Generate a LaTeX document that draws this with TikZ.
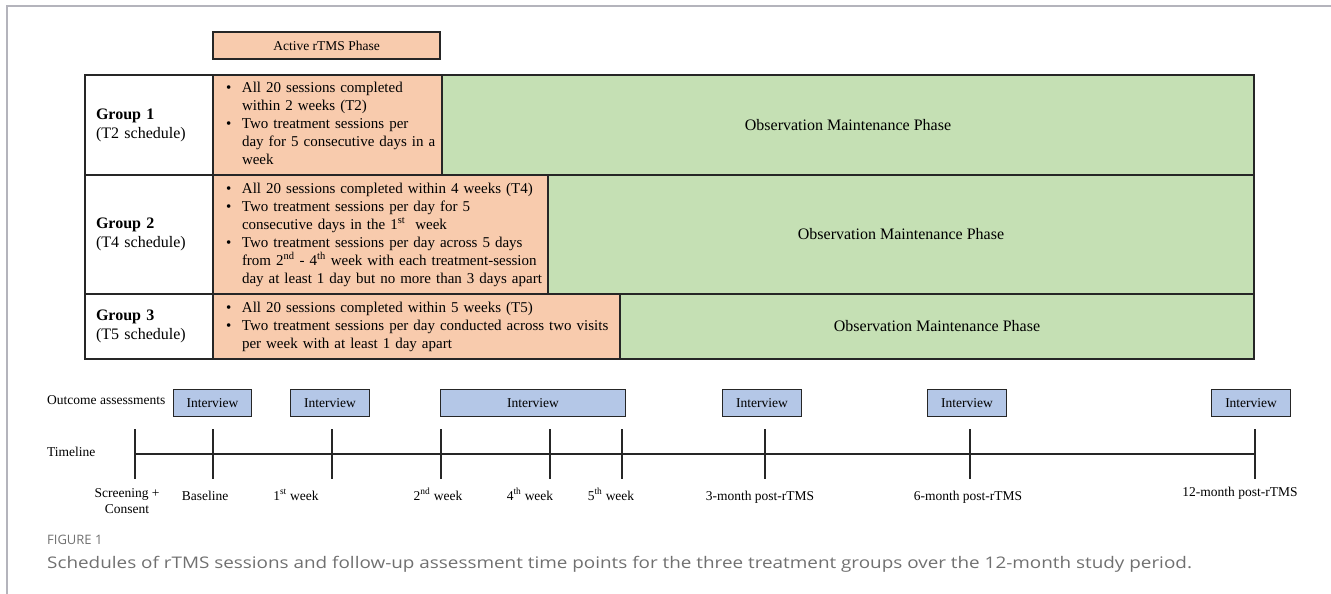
\documentclass[tikz,border=0pt]{standalone}
\usepackage{fontspec}
\setmainfont{Liberation Serif}
\newfontfamily\capfont{Open Sans}
\usetikzlibrary{positioning}
\definecolor{actorange}{HTML}{F8CBAD}
\definecolor{obsgreen}{HTML}{C5E0B4}
\definecolor{ivblue}{HTML}{B4C7E7}
\definecolor{framegray}{HTML}{B4B4BC}
\definecolor{capgray}{HTML}{707070}
\tikzset{
  cell/.style={draw=black!85, line width=1.5pt, inner sep=0pt, outer sep=0pt, anchor=north west},
  grp/.style={cell, fill=white, align=left, inner xsep=11pt, font=\fontsize{16}{19}\selectfont},
  act/.style={cell, fill=actorange, align=left, inner xsep=13pt, font=\fontsize{15}{18}\selectfont},
  obs/.style={cell, fill=obsgreen, align=center, font=\fontsize{16}{19}\selectfont},
  ivw/.style={draw=black!85, line width=1.2pt, fill=ivblue, minimum height=27pt, inner sep=0pt, anchor=north west, font=\fontsize{13.5}{16}\selectfont},
  lbl/.style={font=\fontsize{13.5}{16.5}\selectfont, align=center, inner sep=0pt},
  tick/.style={line width=1.3pt, black!85}
}

\begin{document}
\begin{tikzpicture}[x=1pt,y=-1pt]
	\useasboundingbox (0,0) rectangle (1331,594);
	\draw [framegray, line width=1.5pt] (7,594) -- (7,6) -- (1331,6);
	% phase header
	\node [cell, fill=actorange, line width=1.2pt, minimum width=227pt, minimum height=27pt, font=\fontsize{13.5}{16}\selectfont] (phase) at (213,32) {Active rTMS Phase};
	% group 1
	\node [grp, minimum width=128pt, minimum height=100pt, text width=106pt] (g1) at (85,75) {\textbf{Group 1}\\(T2 schedule)};
	\node [act, minimum width=229pt, minimum height=100pt, text width=203pt] (a1) at (213,75) {\begin{tabular}{@{}p{16pt}@{}l@{}}
		\textbullet & All 20 sessions completed\\
		& within 2 weeks (T2)\\
		\textbullet & Two treatment sessions per\\
		& day for 5 consecutive days in a\\
		& week
	\end{tabular}};
	\node [obs, minimum width=812pt, minimum height=100pt] (o1) at (442,75) {Observation Maintenance Phase};
	% group 2
	\node [grp, minimum width=128pt, minimum height=119pt, text width=106pt] (g2) at (85,175) {\textbf{Group 2}\\(T4 schedule)};
	\node [act, minimum width=335pt, minimum height=119pt, text width=309pt] (a2) at (213,175) {\begin{tabular}{@{}p{16pt}@{}l@{}}
		\textbullet & All 20 sessions completed within 4 weeks (T4)\\
		\textbullet & Two treatment sessions per day for 5\\
		& consecutive days in the 1\textsuperscript{st}\ \ week\\
		\textbullet & Two treatment sessions per day across 5 days\\
		& from 2\textsuperscript{nd} - 4\textsuperscript{th} week with each treatment-session\\
		& day at least 1 day but no more than 3 days apart
	\end{tabular}};
	\node [obs, minimum width=706pt, minimum height=119pt] (o2) at (548,175) {Observation Maintenance Phase};
	% group 3
	\node [grp, minimum width=128pt, minimum height=65pt, text width=106pt] (g3) at (85,294) {\textbf{Group 3}\\(T5 schedule)};
	\node [act, minimum width=407pt, minimum height=65pt, text width=381pt] (a3) at (213,294) {\begin{tabular}{@{}p{16pt}@{}l@{}}
		\textbullet & All 20 sessions completed within 5 weeks (T5)\\
		\textbullet & Two treatment sessions per day conducted across two visits\\
		& per week with at least 1 day apart
	\end{tabular}};
	\node [obs, minimum width=634pt, minimum height=65pt] (o3) at (620,294) {Observation Maintenance Phase};
	% assessments
	\node [lbl, anchor=west] (outc) at (47,400) {Outcome assessments};
	\node [ivw, minimum width=78pt] (iv1) at (173,389) {Interview};
	\node [ivw, minimum width=79pt] (iv2) at (290,389) {Interview};
	\node [ivw, minimum width=185pt] (iv3) at (440,389) {Interview};
	\node [ivw, minimum width=79pt] (iv4) at (722,389) {Interview};
	\node [ivw, minimum width=79pt] (iv5) at (927,389) {Interview};
	\node [ivw, minimum width=79pt] (iv6) at (1211,389) {Interview};
	% timeline
	\node [lbl, anchor=west] (tline) at (47,452) {Timeline};
	\coordinate (tl0) at (135,454);
	\coordinate (tl8) at (1255,454);
	\draw [tick] (tl0) -- (tl8);
	\foreach \x [count=\i] in {135,213,332,441,550,622,765,970,1255}
		\draw [tick] (\x,429) coordinate (tk\i) -- (\x,479);
	\node [lbl, anchor=north] (s1) at (127,488) {Screening +\\Consent};
	\node [lbl, anchor=base] (s2) at (205,500) {Baseline};
	\node [lbl, anchor=base] (s3) at (296,500) {1\textsuperscript{st} week};
	\node [lbl, anchor=base] (s4) at (438,500) {2\textsuperscript{nd} week};
	\node [lbl, anchor=base] (s5) at (530,500) {4\textsuperscript{th} week};
	\node [lbl, anchor=base] (s6) at (611,500) {5\textsuperscript{th} week};
	\node [lbl, anchor=base] (s7) at (760,500) {3-month post-rTMS};
	\node [lbl, anchor=base] (s8) at (968,500) {6-month post-rTMS};
	\node [lbl, anchor=base] (s9) at (1240,496) {12-month post-rTMS};
	% caption
	\node [anchor=west, inner sep=0pt, text=capgray, font=\capfont\fontsize{13}{15}\selectfont] (fig) at (47,540) {\scalebox{1.0}[1]{FIGURE 1}};
	\node [anchor=west, inner sep=0pt, text=capgray, font=\capfont\fontsize{16}{19}\selectfont] (cap) at (47,564) {\scalebox{1.18}[1]{Schedules of rTMS sessions and follow-up assessment time points for the three treatment groups over the 12-month study period.}};
\end{tikzpicture}
\end{document}
